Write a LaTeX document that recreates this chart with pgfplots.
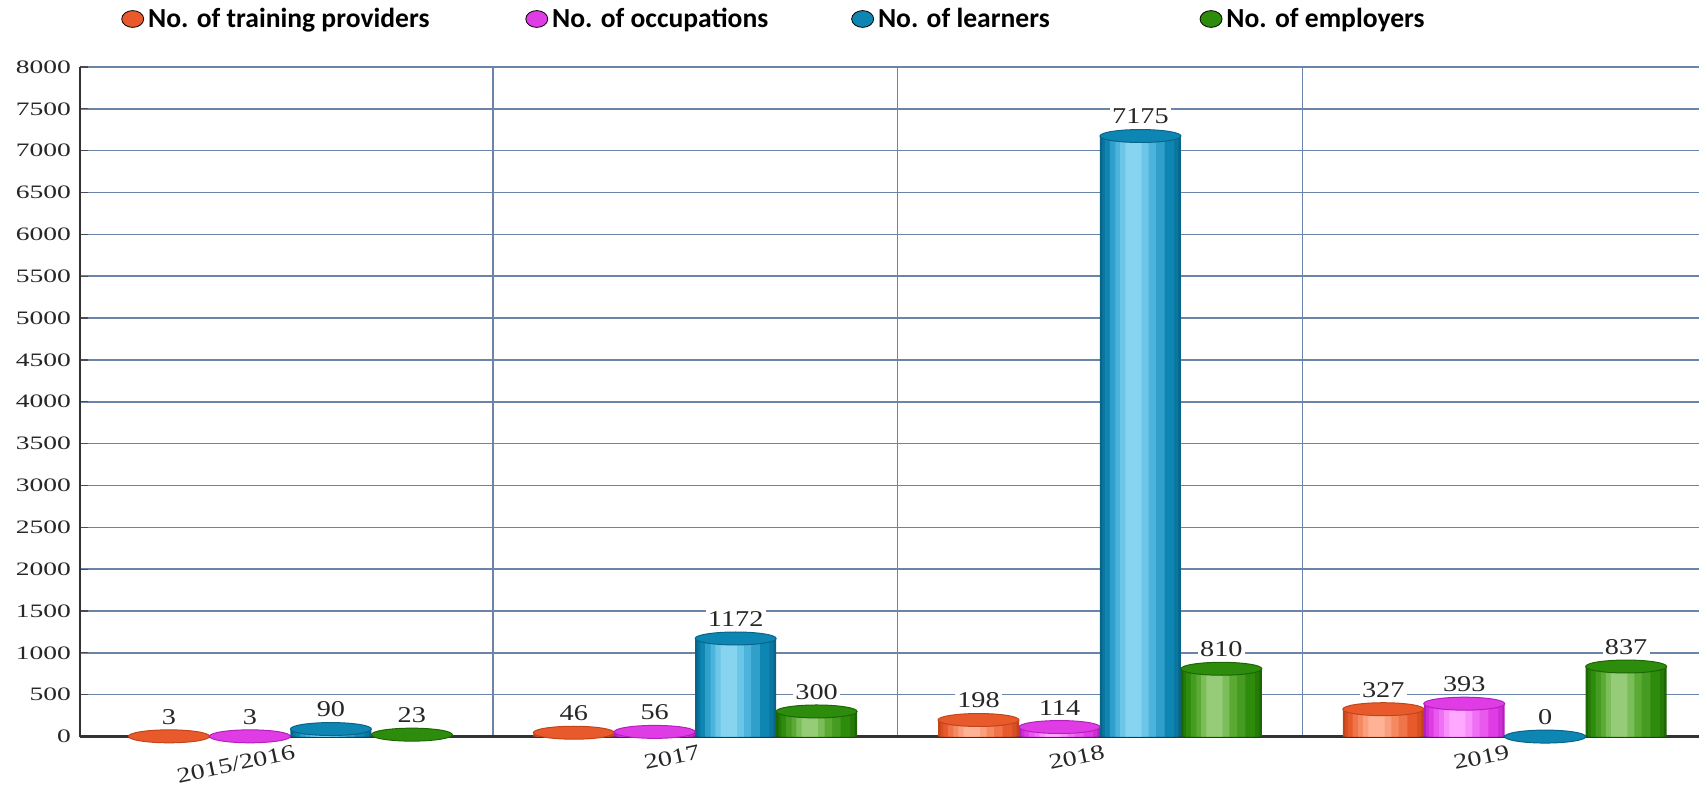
\documentclass[border=0pt]{standalone}
\usepackage{pgfplots}
\pgfplotsset{compat=1.18}
\usepackage{pgfplotstable}
\usepackage{fontspec}
\setmainfont{Liberation Serif}
\newfontfamily\legfont{Carlito}
\newfontfamily\tickfont[FakeStretch=1.45]{Liberation Serif}
\newfontfamily\labfont[FakeStretch=1.25]{Liberation Serif}
\newfontfamily\catfont[FakeStretch=1.3]{Liberation Serif}

\definecolor{gridblue}{HTML}{6A84AA}
\definecolor{cOrD}{HTML}{C24418}
\definecolor{cOr}{HTML}{E85A2C}
\definecolor{cOrL}{HTML}{F58A62}
\definecolor{cOrLL}{HTML}{FFB296}
\definecolor{cMaD}{HTML}{B420BC}
\definecolor{cMa}{HTML}{E03CE6}
\definecolor{cMaL}{HTML}{F070F5}
\definecolor{cMaLL}{HTML}{FFA8FF}
\definecolor{cBlD}{HTML}{086488}
\definecolor{cBl}{HTML}{0E86B4}
\definecolor{cBlL}{HTML}{4CB4DC}
\definecolor{cBlLL}{HTML}{86D4F0}
\definecolor{cGrD}{HTML}{1C6604}
\definecolor{cGr}{HTML}{2E8C0C}
\definecolor{cGrL}{HTML}{5AAA34}
\definecolor{cGrLL}{HTML}{96CC78}

\pgfplotstableread{
x   tp   oc   le    em
0   3    3    90    23
1   46   56   1172  300
2   198  114  7175  810
3   327  393  0     837
}\datatable

\pgfplotsset{
  layer/.style n args={3}{ybar, bar width=#1, bar shift=0pt, draw=none, fill=#2,
    forget plot, table/x expr=\thisrow{x}+(#3)},
  captop/.style n args={3}{only marks, mark=*, mark size=20.25pt, forget plot, color=#1,
    mark options={draw=#2, fill=#1, line width=0.5pt, yscale=0.16},
    table/x expr=\thisrow{x}+(#3),
    nodes near coords,
    every node near coord/.style={font=\labfont\fontsize{11.3}{13}\selectfont, fill=white,
      inner sep=1.2pt, anchor=south, yshift=4.5pt, text=black!85}},
}
% series column, shift, dark, base, light, lightest
\newcommand{\cylinder}[6]{%
  \addplot[layer={0.2}{#3}{#2}] table[y=#1] {\datatable};
  \addplot[layer={0.188}{#4!55!#3}{#2}] table[y=#1] {\datatable};
  \addplot[layer={0.17}{#4}{#2-0.002}] table[y=#1] {\datatable};
  \addplot[layer={0.135}{#5!55!#4}{#2-0.008}] table[y=#1] {\datatable};
  \addplot[layer={0.10}{#5}{#2-0.012}] table[y=#1] {\datatable};
  \addplot[layer={0.07}{#6!55!#5}{#2-0.015}] table[y=#1] {\datatable};
  \addplot[layer={0.04}{#6}{#2-0.017}] table[y=#1] {\datatable};
  \addplot[captop={#4}{#3}{#2}] table[y=#1] {\datatable};
}

\begin{document}
\begin{tikzpicture}
\begin{axis}[
  at={(40pt,25.5pt)}, anchor=south west,
  scale only axis, width=810pt, height=335pt,
  xmin=-0.52, xmax=3.48, ymin=0, ymax=8000,
  clip=false,
  ytick={0,500,...,8000},
  xtick={0,1,2,3},
  xticklabels={2015/2016,2017,2018,2019},
  minor xtick={0.5,1.5,2.5},
  xminorgrids, ymajorgrids,
  grid style={color=gridblue, line width=0.75pt},
  minor grid style={color=gridblue, line width=0.75pt},
  axis x line*=bottom, axis y line*=left,
  axis line style={black!80, line width=1.3pt},
  xtick style={draw=none},
  minor x tick style={draw=none},
  ytick style={black!70, line width=0.6pt},
  major tick length=4pt,
  scaled y ticks=false,
  yticklabel style={font=\tickfont\fontsize{9.5}{11}\selectfont, text=black!85, xshift=-1pt},
  xticklabel style={font=\catfont\fontsize{10.8}{12}\selectfont, rotate=12, anchor=north east, yshift=-0.5pt, xshift=4pt, text=black!85},
  legend columns=4,
  legend style={draw=none, fill=none, at={(axis cs:-0.52,8000)}, anchor=west,
    xshift=17.5pt, yshift=24pt,
    font=\legfont\bfseries\fontsize{13.8}{15}\selectfont,
    /tikz/column 2/.style={column sep=46pt},
    /tikz/column 4/.style={column sep=39.5pt},
    /tikz/column 6/.style={column sep=73pt}},
  legend image code/.code={\fill[#1] (0.3cm,0pt) ellipse (5.5pt and 4.2pt);},
  /pgf/number format/1000 sep={}, /pgf/number format/assume math mode=true,
]
\cylinder{tp}{-0.3}{cOrD}{cOr}{cOrL}{cOrLL}
\cylinder{oc}{-0.1}{cMaD}{cMa}{cMaL}{cMaLL}
\cylinder{le}{0.1}{cBlD}{cBl}{cBlL}{cBlLL}
\cylinder{em}{0.3}{cGrD}{cGr}{cGrL}{cGrLL}
\addlegendimage{fill=cOr}\addlegendentry{No. of training providers}
\addlegendimage{fill=cMa}\addlegendentry{No. of occupations}
\addlegendimage{fill=cBl}\addlegendentry{No. of learners}
\addlegendimage{fill=cGr}\addlegendentry{No. of employers}
\end{axis}
\pgfresetboundingbox
\path[use as bounding box] (0,0) rectangle (850pt,394pt);
\end{tikzpicture}
\end{document}
